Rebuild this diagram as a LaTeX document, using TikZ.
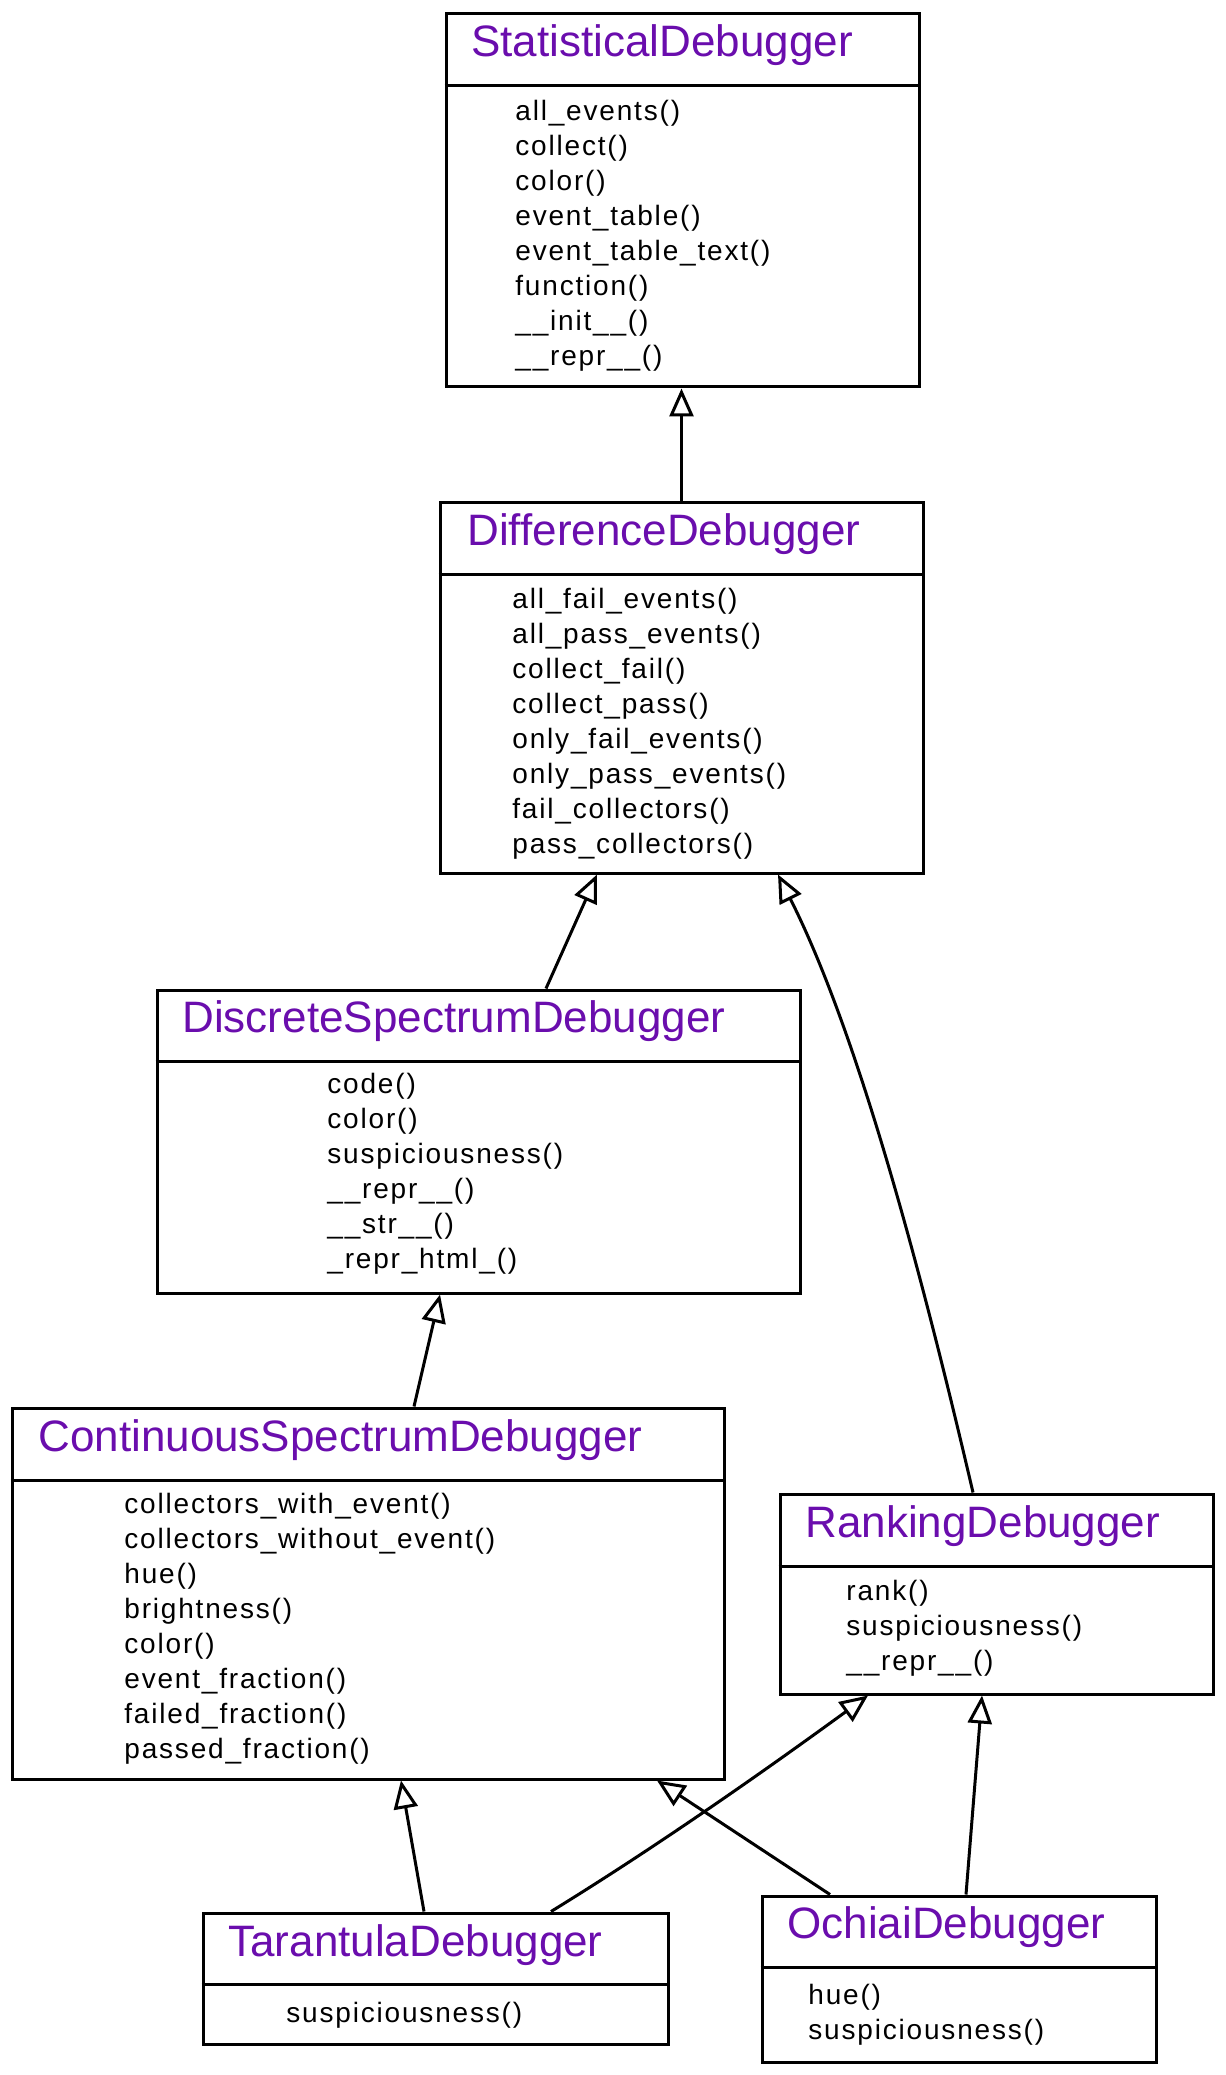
\documentclass[tikz,border=0pt]{standalone}
\usepackage{fontspec}
\setmainfont{Liberation Sans}
\newfontfamily\methfont[LetterSpace=6.5]{Liberation Sans}
\usepackage{tikz}
\usetikzlibrary{arrows.meta,fit}
\definecolor{classpurple}{HTML}{6A0DAD}

\begin{document}
\begin{tikzpicture}[
  x=0.5pt, y=-0.5pt,
  classbox/.style={draw, line width=1.5pt, inner sep=0pt},
  divider/.style={line width=1.5pt},
  clsname/.style={anchor=base west, inner sep=0pt, text=classpurple, font=\fontsize{22}{26}\selectfont},
  methods/.style={anchor=north west, inner sep=0pt, align=left, font=\methfont\fontsize{14}{17.5}\selectfont},
  inherit/.style={-{Triangle[open, length=14pt, width=12pt]}, line width=1.5pt}
]
\useasboundingbox (0,0) rectangle (1225,2075);

\node[classbox, fit={(446,14) (919,387)}] (stat) {};
\node[clsname] (stat-name) at (471,57) {StatisticalDebugger};
\node[methods] (stat-meth) at (515,100) {all\_events()\\collect()\\color()\\event\_table()\\event\_table\_text()\\function()\\\_\_init\_\_()\\\_\_repr\_\_()};
\draw[divider] (stat.west |- 0,86) -- (stat.east |- 0,86);

\node[classbox, fit={(440,502) (923,873)}] (diff) {};
\node[clsname] (diff-name) at (467,545) {DifferenceDebugger};
\node[methods] (diff-meth) at (512,588) {all\_fail\_events()\\all\_pass\_events()\\collect\_fail()\\collect\_pass()\\only\_fail\_events()\\only\_pass\_events()\\fail\_collectors()\\pass\_collectors()};
\draw[divider] (diff.west |- 0,574) -- (diff.east |- 0,574);

\node[classbox, fit={(157,990) (800,1293)}] (disc) {};
\node[clsname] (disc-name) at (182,1032) {DiscreteSpectrumDebugger};
\node[methods] (disc-meth) at (327,1073) {code()\\color()\\suspiciousness()\\\_\_repr\_\_()\\\_\_str\_\_()\\\_repr\_html\_()};
\draw[divider] (disc.west |- 0,1061) -- (disc.east |- 0,1061);

\node[classbox, fit={(12,1408) (724,1779)}] (cont) {};
\node[clsname] (cont-name) at (38,1451) {ContinuousSpectrumDebugger};
\node[methods] (cont-meth) at (124,1493) {collectors\_with\_event()\\collectors\_without\_event()\\hue()\\brightness()\\color()\\event\_fraction()\\failed\_fraction()\\passed\_fraction()};
\draw[divider] (cont.west |- 0,1480) -- (cont.east |- 0,1480);

\node[classbox, fit={(780,1494) (1213,1694)}] (rank) {};
\node[clsname] (rank-name) at (805,1537) {RankingDebugger};
\node[methods] (rank-meth) at (846,1580) {rank()\\suspiciousness()\\\_\_repr\_\_()};
\draw[divider] (rank.west |- 0,1566) -- (rank.east |- 0,1566);

\node[classbox, fit={(203,1913) (668,2044)}] (tar) {};
\node[clsname] (tar-name) at (228,1956) {TarantulaDebugger};
\node[methods] (tar-meth) at (286,2002) {suspiciousness()};
\draw[divider] (tar.west |- 0,1984) -- (tar.east |- 0,1984);

\node[classbox, fit={(762,1896) (1156,2062)}] (och) {};
\node[clsname] (och-name) at (787,1938) {OchiaiDebugger};
\node[methods] (och-meth) at (808,1984) {hue()\\suspiciousness()};
\draw[divider] (och.west |- 0,1967) -- (och.east |- 0,1967);

\draw[inherit] (diff.north) -- (diff.north |- stat.south);
\draw[inherit] (disc.north -| 546,0) -- (diff.south -| 597,0);
\draw[inherit] (rank.north -| 973,0) .. controls (915,1244) and (853,1023) .. (diff.south -| 778,0);
\draw[inherit] (cont.north -| 414,0) -- (disc.south -| 440,0);
\draw[inherit] (tar.north -| 424,0) -- (cont.south -| 401,0);
\draw[inherit] (tar.north -| 551,0) .. controls (656,1847) and (763,1772) .. (rank.south -| 868,0);
\draw[inherit] (och.north -| 830,0) -- (cont.south -| 657,0);
\draw[inherit] (och.north -| 966,0) -- (rank.south -| 982,0);
\end{tikzpicture}
\end{document}
